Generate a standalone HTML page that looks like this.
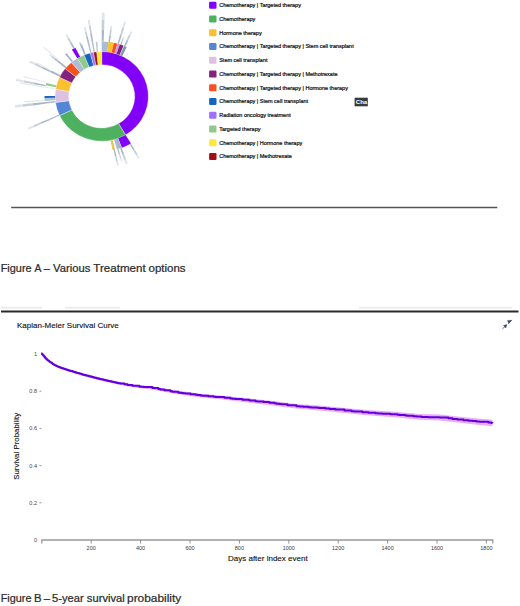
<!DOCTYPE html>
<html><head><meta charset="utf-8"><style>
html,body{margin:0;padding:0;background:#fff;}
svg{display:block;font-family:"Liberation Sans",sans-serif;}
</style></head><body>
<svg width="520" height="606" viewBox="0 0 520 606">
<rect width="520" height="606" fill="#fff"/>
<g transform="translate(101.7,96.4) scale(1,0.96)">
<g stroke="#fff" stroke-width="0.35">
<path d="M0.00,-46.67A46.67,46.67 0 0 1 23.90,40.09L16.90,28.35A33.00,33.00 0 0 0 0.00,-33.00Z" fill="#8200f7"/>
<path d="M23.90,40.09A46.67,46.67 0 0 1 -42.16,20.02L-29.81,14.15A33.00,33.00 0 0 0 16.90,28.35Z" fill="#4eb160"/>
<path d="M-42.16,20.02A46.67,46.67 0 0 1 -46.24,6.33L-32.69,4.48A33.00,33.00 0 0 0 -29.81,14.15Z" fill="#5387d6"/>
<path d="M-46.24,6.33A46.67,46.67 0 0 1 -46.08,-7.38L-32.58,-5.22A33.00,33.00 0 0 0 -32.69,4.48Z" fill="#dcc1e3"/>
<path d="M-46.08,-7.38A46.67,46.67 0 0 1 -42.23,-19.87L-29.86,-14.05A33.00,33.00 0 0 0 -32.58,-5.22Z" fill="#fbc02d"/>
<path d="M-42.23,-19.87A46.67,46.67 0 0 1 -36.57,-28.99L-25.86,-20.50A33.00,33.00 0 0 0 -29.86,-14.05Z" fill="#83237e"/>
<path d="M-36.57,-28.99A46.67,46.67 0 0 1 -30.37,-35.43L-21.48,-25.06A33.00,33.00 0 0 0 -25.86,-20.50Z" fill="#f4511e"/>
<path d="M-30.37,-35.43A46.67,46.67 0 0 1 -24.38,-39.79L-17.24,-28.14A33.00,33.00 0 0 0 -21.48,-25.06Z" fill="#aebdd3"/>
<path d="M-24.38,-39.79A46.67,46.67 0 0 1 -17.63,-43.21L-12.47,-30.55A33.00,33.00 0 0 0 -17.24,-28.14Z" fill="#8fca8a"/>
<path d="M-17.63,-43.21A46.67,46.67 0 0 1 -11.37,-45.26L-8.04,-32.01A33.00,33.00 0 0 0 -12.47,-30.55Z" fill="#1565c0"/>
<path d="M-11.37,-45.26A46.67,46.67 0 0 1 -8.18,-45.95L-5.79,-32.49A33.00,33.00 0 0 0 -8.04,-32.01Z" fill="#a070ff"/>
<path d="M-8.18,-45.95A46.67,46.67 0 0 1 -4.96,-46.40L-3.51,-32.81A33.00,33.00 0 0 0 -5.79,-32.49Z" fill="#a50e0e"/>
<path d="M-4.96,-46.40A46.67,46.67 0 0 1 -0.00,-46.67L-0.00,-33.00A33.00,33.00 0 0 0 -3.51,-32.81Z" fill="#ffe83a"/>
</g>
<path d="M0.00,-57.16A57.16,57.16 0 0 1 6.77,-56.76L5.53,-46.34A46.67,46.67 0 0 0 0.00,-46.67Z" fill="#a9bcd6"/>
<path d="M6.77,-56.76A57.16,57.16 0 0 1 12.18,-55.85L9.94,-45.60A46.67,46.67 0 0 0 5.53,-46.34Z" fill="#fbc02d"/>
<path d="M12.18,-55.85A57.16,57.16 0 0 1 15.75,-54.94L12.86,-44.86A46.67,46.67 0 0 0 9.94,-45.60Z" fill="#f4511e"/>
<path d="M15.75,-54.94A57.16,57.16 0 0 1 18.14,-54.20L14.81,-44.26A46.67,46.67 0 0 0 12.86,-44.86Z" fill="#cf9de6"/>
<path d="M18.14,-54.20A57.16,57.16 0 0 1 21.87,-52.81L17.86,-43.12A46.67,46.67 0 0 0 14.81,-44.26Z" fill="#83237e"/>
<path d="M22.33,-52.61A57.16,57.16 0 0 1 25.06,-51.37L20.46,-41.95A46.67,46.67 0 0 0 18.24,-42.96Z" fill="#7f9bb0"/>
<path d="M29.27,49.10A57.16,57.16 0 0 1 20.20,53.47L16.50,43.66A46.67,46.67 0 0 0 23.90,40.09Z" fill="#8200f7"/>
<path d="M20.02,53.54A57.16,57.16 0 0 1 15.27,55.08L12.47,44.97A46.67,46.67 0 0 0 16.34,43.71Z" fill="#a9b8cc"/>
<path d="M13.34,55.58A57.16,57.16 0 0 1 10.91,56.11L8.90,45.81A46.67,46.67 0 0 0 10.89,45.38Z" fill="#e3c64a"/>
<path d="M-29.86,-48.73A57.16,57.16 0 0 1 -26.39,-50.70L-21.55,-41.40A46.67,46.67 0 0 0 -24.38,-39.79Z" fill="#8200f7"/>
<path d="M-56.95,4.88A57.16,57.16 0 0 1 -57.14,1.60L-46.65,1.30A46.67,46.67 0 0 0 -46.50,3.99Z" fill="#b3c2d4"/>
<path d="M-57.14,1.60A57.16,57.16 0 0 1 -57.16,-0.40L-46.67,-0.33A46.67,46.67 0 0 0 -46.65,1.30Z" fill="#1565c0"/>
<path d="M-55.95,-11.69A57.16,57.16 0 0 1 -55.41,-14.02L-45.24,-11.45A46.67,46.67 0 0 0 -45.68,-9.54Z" fill="#8fca8a"/>
<path d="M-5.97,-56.84A57.16,57.16 0 0 1 -4.48,-56.98L-3.66,-46.53A46.67,46.67 0 0 0 -4.88,-46.41Z" fill="#b9c4d0"/>
<path d="M-21.41,-53.00A57.16,57.16 0 0 1 -19.55,-53.71L-15.96,-43.85A46.67,46.67 0 0 0 -17.48,-43.27Z" fill="#9fb2c8"/>
<path d="M-36.74,-43.79A57.16,57.16 0 0 1 -35.19,-45.04L-28.73,-36.78A46.67,46.67 0 0 0 -30.00,-35.75Z" fill="#9fb2c8"/>
<path d="M-44.42,-35.97A57.16,57.16 0 0 1 -43.14,-37.50L-35.22,-30.62A46.67,46.67 0 0 0 -36.27,-29.37Z" fill="#a4b4c8"/>
<path d="M-51.37,-25.06A57.16,57.16 0 0 1 -50.37,-27.01L-41.13,-22.05A46.67,46.67 0 0 0 -41.95,-20.46Z" fill="#a4b4c8"/>
<path d="M-51.63,24.52A57.16,57.16 0 0 1 -52.26,23.16L-42.67,18.91A46.67,46.67 0 0 0 -42.16,20.02Z" fill="#b0bccb"/>
<path d="M-56.63,7.76A57.16,57.16 0 0 1 -56.87,5.78L-46.43,4.72A46.67,46.67 0 0 0 -46.24,6.33Z" fill="#b0bccb"/>
<path d="M-9.93,-56.29A57.16,57.16 0 0 1 -8.45,-56.53L-6.90,-46.16A46.67,46.67 0 0 0 -8.10,-45.96Z" fill="#b0bccb"/>
<path d="M-13.92,-55.44A57.16,57.16 0 0 1 -12.47,-55.78L-10.18,-45.55A46.67,46.67 0 0 0 -11.37,-45.26Z" fill="#b0bccb"/>
<path d="M0.00,-69.22A69.22,69.22 0 0 1 2.42,-69.18L1.99,-57.12A57.16,57.16 0 0 0 0.00,-57.16Z" fill="#a9b8c9"/>
<path d="M0.00,-79.77A79.77,79.77 0 0 1 2.78,-79.72L2.42,-69.18A69.22,69.22 0 0 0 0.00,-69.22Z" fill="#c5cfda"/>
<path d="M0.00,-87.31A87.31,87.31 0 0 1 3.05,-87.26L2.78,-79.72A79.77,79.77 0 0 0 0.00,-79.77Z" fill="#e0e5ea"/>
<path d="M7.56,-63.36A63.81,63.81 0 0 1 9.21,-63.14L8.25,-56.56A57.16,57.16 0 0 0 6.77,-56.76Z" fill="#a9b8c9"/>
<path d="M8.24,-69.14A69.63,69.63 0 0 1 10.05,-68.90L9.21,-63.14A63.81,63.81 0 0 0 7.56,-63.36Z" fill="#c5cfda"/>
<path d="M8.74,-73.27A73.79,73.79 0 0 1 10.65,-73.02L10.05,-68.90A69.63,69.63 0 0 0 8.24,-69.14Z" fill="#e0e5ea"/>
<path d="M18.37,-64.05A66.63,66.63 0 0 1 20.04,-63.54L17.19,-54.51A57.16,57.16 0 0 0 15.75,-54.94Z" fill="#a9b8c9"/>
<path d="M20.65,-72.01A74.91,74.91 0 0 1 22.53,-71.45L20.04,-63.54A66.63,66.63 0 0 0 18.37,-64.05Z" fill="#c5cfda"/>
<path d="M22.28,-77.70A80.83,80.83 0 0 1 24.31,-77.09L22.53,-71.45A74.91,74.91 0 0 0 20.65,-72.01Z" fill="#e0e5ea"/>
<path d="M24.93,-58.74A63.81,63.81 0 0 1 26.46,-58.07L23.70,-52.01A57.16,57.16 0 0 0 22.33,-52.61Z" fill="#a9b8c9"/>
<path d="M27.21,-64.10A69.63,69.63 0 0 1 28.88,-63.36L26.46,-58.07A63.81,63.81 0 0 0 24.93,-58.74Z" fill="#c5cfda"/>
<path d="M28.83,-67.92A73.79,73.79 0 0 1 30.60,-67.15L28.88,-63.36A69.63,69.63 0 0 0 27.21,-64.10Z" fill="#e0e5ea"/>
<path d="M19.76,-57.39A60.69,60.69 0 0 1 20.86,-57.00L19.64,-53.68A57.16,57.16 0 0 0 18.61,-54.04Z" fill="#a9b8c9"/>
<path d="M20.77,-60.31A63.79,63.79 0 0 1 21.92,-59.90L20.86,-57.00A60.69,60.69 0 0 0 19.76,-57.39Z" fill="#c5cfda"/>
<path d="M21.49,-62.40A66.00,66.00 0 0 1 22.68,-61.98L21.92,-59.90A63.79,63.79 0 0 0 20.77,-60.31Z" fill="#e0e5ea"/>
<path d="M-11.57,-65.62A66.63,66.63 0 0 1 -9.85,-65.90L-8.45,-56.53A57.16,57.16 0 0 0 -9.93,-56.29Z" fill="#a9b8c9"/>
<path d="M-13.01,-73.78A74.91,74.91 0 0 1 -11.07,-74.09L-9.85,-65.90A66.63,66.63 0 0 0 -11.57,-65.62Z" fill="#c5cfda"/>
<path d="M-14.04,-79.61A80.83,80.83 0 0 1 -11.95,-79.95L-11.07,-74.09A74.91,74.91 0 0 0 -13.01,-73.78Z" fill="#e0e5ea"/>
<path d="M-15.55,-61.89A63.81,63.81 0 0 1 -13.92,-62.27L-12.47,-55.78A57.16,57.16 0 0 0 -13.92,-55.44Z" fill="#a9b8c9"/>
<path d="M-16.96,-67.53A69.63,69.63 0 0 1 -15.19,-67.96L-13.92,-62.27A63.81,63.81 0 0 0 -15.55,-61.89Z" fill="#c5cfda"/>
<path d="M-17.98,-71.57A73.79,73.79 0 0 1 -16.10,-72.01L-15.19,-67.96A69.63,69.63 0 0 0 -16.96,-67.53Z" fill="#e0e5ea"/>
<path d="M-21.96,-54.36A58.63,58.63 0 0 1 -20.44,-54.96L-19.92,-53.57A57.16,57.16 0 0 0 -21.41,-53.00Z" fill="#a9b8c9"/>
<path d="M-22.45,-55.56A59.93,59.93 0 0 1 -20.89,-56.17L-20.44,-54.96A58.63,58.63 0 0 0 -21.96,-54.36Z" fill="#c5cfda"/>
<path d="M-22.79,-56.42A60.85,60.85 0 0 1 -21.21,-57.03L-20.89,-56.17A59.93,59.93 0 0 0 -22.45,-55.56Z" fill="#e0e5ea"/>
<path d="M-31.62,-55.43A63.81,63.81 0 0 1 -30.06,-56.29L-26.92,-50.42A57.16,57.16 0 0 0 -28.32,-49.65Z" fill="#a9b8c9"/>
<path d="M-34.50,-60.48A69.63,69.63 0 0 1 -32.80,-61.42L-30.06,-56.29A63.81,63.81 0 0 0 -31.62,-55.43Z" fill="#c5cfda"/>
<path d="M-36.56,-64.10A73.79,73.79 0 0 1 -34.76,-65.09L-32.80,-61.42A69.63,69.63 0 0 0 -34.50,-60.48Z" fill="#e0e5ea"/>
<path d="M-47.68,-38.61A61.35,61.35 0 0 1 -46.58,-39.92L-43.40,-37.20A57.16,57.16 0 0 0 -44.42,-35.97Z" fill="#a9b8c9"/>
<path d="M-50.52,-40.91A65.01,65.01 0 0 1 -49.36,-42.31L-46.58,-39.92A61.35,61.35 0 0 0 -47.68,-38.61Z" fill="#c5cfda"/>
<path d="M-52.56,-42.56A67.63,67.63 0 0 1 -51.35,-44.01L-49.36,-42.31A65.01,65.01 0 0 0 -50.52,-40.91Z" fill="#e0e5ea"/>
<path d="M-59.88,-29.21A66.63,66.63 0 0 1 -59.05,-30.87L-50.65,-26.48A57.16,57.16 0 0 0 -51.37,-25.06Z" fill="#a9b8c9"/>
<path d="M-67.33,-32.84A74.91,74.91 0 0 1 -66.39,-34.71L-59.05,-30.87A66.63,66.63 0 0 0 -59.88,-29.21Z" fill="#c5cfda"/>
<path d="M-72.65,-35.43A80.83,80.83 0 0 1 -71.63,-37.45L-66.39,-34.71A74.91,74.91 0 0 0 -67.33,-32.84Z" fill="#e0e5ea"/>
<path d="M-68.04,-12.73A69.22,69.22 0 0 1 -67.68,-14.51L-55.89,-11.98A57.16,57.16 0 0 0 -56.18,-10.51Z" fill="#a9b8c9"/>
<path d="M-78.41,-14.67A79.77,79.77 0 0 1 -78.00,-16.72L-67.68,-14.51A69.22,69.22 0 0 0 -68.04,-12.73Z" fill="#c5cfda"/>
<path d="M-85.82,-16.06A87.31,87.31 0 0 1 -85.37,-18.30L-78.00,-16.72A79.77,79.77 0 0 0 -78.41,-14.67Z" fill="#e0e5ea"/>
<path d="M-68.58,9.39A69.22,69.22 0 0 1 -68.85,7.12L-56.85,5.88A57.16,57.16 0 0 0 -56.63,7.76Z" fill="#a9b8c9"/>
<path d="M-79.03,10.83A79.77,79.77 0 0 1 -79.35,8.20L-68.85,7.12A69.22,69.22 0 0 0 -68.58,9.39Z" fill="#c5cfda"/>
<path d="M-86.50,11.85A87.31,87.31 0 0 1 -86.85,8.97L-79.35,8.20A79.77,79.77 0 0 0 -79.03,10.83Z" fill="#e0e5ea"/>
<path d="M-60.19,28.58A66.63,66.63 0 0 1 -60.91,26.99L-52.26,23.16A57.16,57.16 0 0 0 -51.63,24.52Z" fill="#a9b8c9"/>
<path d="M-67.67,32.13A74.91,74.91 0 0 1 -68.49,30.35L-60.91,26.99A66.63,66.63 0 0 0 -60.19,28.58Z" fill="#c5cfda"/>
<path d="M-73.02,34.67A80.83,80.83 0 0 1 -73.90,32.75L-68.49,30.35A74.91,74.91 0 0 0 -67.67,32.13Z" fill="#e0e5ea"/>
<path d="M32.82,55.06A64.10,64.10 0 0 1 31.37,55.90L27.97,49.85A57.16,57.16 0 0 0 29.27,49.10Z" fill="#a9b8c9"/>
<path d="M35.94,60.28A70.18,70.18 0 0 1 34.35,61.20L31.37,55.90A64.10,64.10 0 0 0 32.82,55.06Z" fill="#c5cfda"/>
<path d="M38.16,64.01A74.52,74.52 0 0 1 36.47,64.99L34.35,61.20A70.18,70.18 0 0 0 35.94,60.28Z" fill="#e0e5ea"/>
<path d="M22.35,60.08A64.10,64.10 0 0 1 20.66,60.68L18.42,54.11A57.16,57.16 0 0 0 19.92,53.57Z" fill="#a9b8c9"/>
<path d="M24.46,65.78A70.18,70.18 0 0 1 22.62,66.44L20.66,60.68A64.10,64.10 0 0 0 22.35,60.08Z" fill="#c5cfda"/>
<path d="M25.98,69.85A74.52,74.52 0 0 1 24.02,70.55L22.62,66.44A70.18,70.18 0 0 0 24.46,65.78Z" fill="#e0e5ea"/>
<path d="M14.79,62.07A63.81,63.81 0 0 1 13.27,62.42L11.88,55.91A57.16,57.16 0 0 0 13.25,55.60Z" fill="#a9b8c9"/>
<path d="M16.14,67.74A69.63,69.63 0 0 1 14.48,68.11L13.27,62.42A63.81,63.81 0 0 0 14.79,62.07Z" fill="#c5cfda"/>
<path d="M17.10,71.78A73.79,73.79 0 0 1 15.34,72.18L14.48,68.11A69.63,69.63 0 0 0 16.14,67.74Z" fill="#e0e5ea"/>
<path d="M18.30,59.87A62.61,62.61 0 0 1 17.15,60.21L15.66,54.97A57.16,57.16 0 0 0 16.71,54.66Z" fill="#a9b8c9"/>
<path d="M19.70,64.43A67.37,67.37 0 0 1 18.46,64.79L17.15,60.21A62.61,62.61 0 0 0 18.30,59.87Z" fill="#c5cfda"/>
<path d="M20.69,67.68A70.78,70.78 0 0 1 19.39,68.07L18.46,64.79A67.37,67.37 0 0 0 19.70,64.43Z" fill="#e0e5ea"/>
<path d="M-81.76,-13.24A82.83,82.83 0 0 1 -81.52,-14.67L-45.93,-8.26A46.67,46.67 0 0 0 -46.07,-7.46Z" fill="#e6eaee"/>
<path d="M-78.33,-19.97A80.83,80.83 0 0 1 -77.97,-21.33L-55.13,-15.08A57.16,57.16 0 0 0 -55.39,-14.12Z" fill="#e6eaee"/>
<path d="M-77.13,6.34A77.39,77.39 0 0 1 -77.25,4.72L-57.05,3.49A57.16,57.16 0 0 0 -56.97,4.68Z" fill="#e6eaee"/>
<path d="M-65.27,-34.41A73.79,73.79 0 0 1 -64.66,-35.55L-50.09,-27.54A57.16,57.16 0 0 0 -50.56,-26.66Z" fill="#e6eaee"/>
<path d="M-58.41,-50.77A77.39,77.39 0 0 1 -57.51,-51.79L-42.48,-38.25A57.16,57.16 0 0 0 -43.14,-37.50Z" fill="#e6eaee"/>
</g>
<rect x="209.1" y="1.80" width="7.4" height="7.0" rx="1.2" fill="#8200f7"/>
<text x="219.2" y="7.10" font-size="5.5" fill="#111" stroke="#111" stroke-width="0.22">Chemotherapy | Targeted therapy</text>
<rect x="209.1" y="15.55" width="7.4" height="7.0" rx="1.2" fill="#4eb160"/>
<text x="219.2" y="20.85" font-size="5.5" fill="#111" stroke="#111" stroke-width="0.22">Chemotherapy</text>
<rect x="209.1" y="29.30" width="7.4" height="7.0" rx="1.2" fill="#fbc02d"/>
<text x="219.2" y="34.60" font-size="5.5" fill="#111" stroke="#111" stroke-width="0.22">Hormone therapy</text>
<rect x="209.1" y="43.05" width="7.4" height="7.0" rx="1.2" fill="#5387d6"/>
<text x="219.2" y="48.35" font-size="5.5" fill="#111" stroke="#111" stroke-width="0.22">Chemotherapy | Targeted therapy | Stem cell transplant</text>
<rect x="209.1" y="56.80" width="7.4" height="7.0" rx="1.2" fill="#dcc1e3"/>
<text x="219.2" y="62.10" font-size="5.5" fill="#111" stroke="#111" stroke-width="0.22">Stem cell transplant</text>
<rect x="209.1" y="70.55" width="7.4" height="7.0" rx="1.2" fill="#83237e"/>
<text x="219.2" y="75.85" font-size="5.5" fill="#111" stroke="#111" stroke-width="0.22">Chemotherapy | Targeted therapy | Methotrexate</text>
<rect x="209.1" y="84.30" width="7.4" height="7.0" rx="1.2" fill="#f4511e"/>
<text x="219.2" y="89.60" font-size="5.5" fill="#111" stroke="#111" stroke-width="0.22">Chemotherapy | Targeted therapy | Hormone therapy</text>
<rect x="209.1" y="98.05" width="7.4" height="7.0" rx="1.2" fill="#1565c0"/>
<text x="219.2" y="103.35" font-size="5.5" fill="#111" stroke="#111" stroke-width="0.22">Chemotherapy | Stem cell transplant</text>
<rect x="209.1" y="111.80" width="7.4" height="7.0" rx="1.2" fill="#a070ff"/>
<text x="219.2" y="117.10" font-size="5.5" fill="#111" stroke="#111" stroke-width="0.22">Radiation oncology treatment</text>
<rect x="209.1" y="125.55" width="7.4" height="7.0" rx="1.2" fill="#8fca8a"/>
<text x="219.2" y="130.85" font-size="5.5" fill="#111" stroke="#111" stroke-width="0.22">Targeted therapy</text>
<rect x="209.1" y="139.30" width="7.4" height="7.0" rx="1.2" fill="#ffe83a"/>
<text x="219.2" y="144.60" font-size="5.5" fill="#111" stroke="#111" stroke-width="0.22">Chemotherapy | Hormone therapy</text>
<rect x="209.1" y="153.05" width="7.4" height="7.0" rx="1.2" fill="#a50e0e"/>
<text x="219.2" y="158.35" font-size="5.5" fill="#111" stroke="#111" stroke-width="0.22">Chemotherapy | Methotrexate</text>
<rect x="354.6" y="97.7" width="13.2" height="8.6" fill="#3a3a3a"/>
<text x="355.8" y="104.3" font-size="6" font-weight="bold" fill="#fff">Cha</text>
<line x1="11.2" x2="497.3" y1="207.45" y2="207.45" stroke="#555" stroke-width="1.6"/>
<g font-size="10.6" fill="#2a2a2a" stroke="#2a2a2a" stroke-width="0.22">
<text x="0.73" y="272.3" textLength="30.86" lengthAdjust="spacingAndGlyphs">Figure</text>
<text x="34.40" y="272.3" textLength="6.87" lengthAdjust="spacingAndGlyphs">A</text>
<text x="43.80" y="272.3" textLength="6.16" lengthAdjust="spacingAndGlyphs">–</text>
<text x="52.99" y="272.3" textLength="37.32" lengthAdjust="spacingAndGlyphs">Various</text>
<text x="93.27" y="272.3" textLength="52.45" lengthAdjust="spacingAndGlyphs">Treatment</text>
<text x="148.54" y="272.3" textLength="37.06" lengthAdjust="spacingAndGlyphs">options</text>
</g>
<path d="M1,307.6H42M65,307.6H120M359,307.6H512" stroke="#e9e9e9" stroke-width="1.6"/>
<line x1="1" x2="518.5" y1="311.5" y2="311.5" stroke="#2a2a2a" stroke-width="1.8"/>
<path d="M41.20,352.58 L43.00,354.46 L44.80,356.64 L46.50,358.32 L48.50,360.00 L51.00,361.78 L54.20,363.85 L58.00,365.72 L63.80,367.77 L73.50,370.80 L85.00,374.02 L102.30,378.31 L117.70,381.61 L134.00,384.52 L153.00,386.61 L176.20,390.58 L199.30,393.46 L222.40,395.64 L250.00,398.50 L273.00,400.99 L296.20,403.88 L319.30,405.57 L342.40,407.76 L370.00,410.13 L395.00,411.72 L420.00,413.91 L440.00,414.52 L457.50,416.45 L475.00,418.17 L492.50,419.80 L492.50,426.20 L475.00,424.43 L457.50,422.55 L440.00,420.48 L420.00,419.69 L395.00,417.28 L370.00,415.47 L342.40,412.84 L319.30,410.43 L296.20,408.52 L273.00,405.41 L250.00,402.70 L222.40,399.56 L199.30,397.14 L176.20,394.02 L153.00,389.79 L134.00,387.48 L117.70,384.39 L102.30,380.89 L85.00,376.38 L73.50,373.00 L63.80,369.83 L58.00,367.68 L54.20,365.75 L51.00,363.62 L48.50,361.80 L46.50,360.08 L44.80,358.36 L43.00,356.14 L41.20,354.22Z" fill="#e8aef6"/>
<path d="M41.20,353.40 H42.00 V354.23 H42.80 V355.08 H43.60 V356.03 H44.40 V357.03 H45.20 V357.93 H46.00 V358.73 H46.80 V359.47 H47.60 V360.17 H48.40 V360.82 H49.20 V361.43 H50.00 V362.01 H50.80 V362.56 H51.60 V363.11 H52.40 V363.66 H53.20 V364.19 H54.00 V364.68 H54.80 V365.14 H55.60 V365.57 H56.40 V365.98 H57.20 V366.35 H58.00 V366.70 H58.80 V367.02 H59.60 V367.33 H60.40 V367.63 H61.90 V368.16 H63.40 V368.67 H64.90 V369.17 H66.40 V369.66 H67.90 V370.15 H69.40 V370.63 H70.90 V371.10 H72.40 V371.57 H73.90 V372.02 H75.40 V372.47 H76.90 V372.92 H78.40 V373.36 H79.90 V373.79 H81.40 V374.22 H82.90 V374.63 H84.40 V375.04 H85.90 V375.44 H87.40 V375.84 H88.90 V376.23 H90.40 V376.62 H91.90 V377.01 H93.40 V377.39 H94.90 V377.77 H96.40 V378.15 H97.90 V378.53 H99.40 V378.90 H100.90 V379.26 H102.40 V379.62 H103.90 V379.98 H105.40 V380.33 H106.90 V380.68 H108.40 V381.02 H109.90 V381.35 H111.40 V381.68 H112.90 V382.00 H114.40 V382.32 H115.90 V382.63 H117.40 V382.94 H118.90 V383.24 H120.40 V383.55 H124.40 V384.34 H127.40 V384.91 H132.40 V385.76 H139.40 V386.66 H141.40 V386.87 H143.40 V387.06 H152.40 V388.11 H158.40 V389.10 H160.40 V389.46 H164.40 V390.21 H170.40 V391.32 H172.40 V391.68 H178.40 V392.63 H181.40 V393.06 H183.40 V393.34 H185.40 V393.61 H190.40 V394.24 H195.40 V394.85 H197.40 V395.08 H200.40 V395.42 H202.40 V395.64 H208.40 V396.24 H213.40 V396.72 H215.40 V396.91 H224.40 V397.81 H230.40 V398.45 H232.40 V398.67 H235.40 V398.99 H242.40 V399.76 H249.40 V400.53 H255.40 V401.20 H257.40 V401.42 H263.40 V402.08 H269.40 V402.77 H274.40 V403.37 H276.40 V403.63 H279.40 V404.03 H281.40 V404.31 H287.40 V405.13 H296.40 V406.22 H299.40 V406.51 H303.40 V406.83 H308.40 V407.19 H311.40 V407.39 H317.40 V407.84 H319.40 V408.01 H325.40 V408.58 H329.40 V408.99 H335.40 V409.61 H344.40 V410.49 H351.40 V411.15 H354.40 V411.43 H356.40 V411.62 H362.40 V412.16 H368.40 V412.67 H375.40 V413.20 H378.40 V413.40 H382.40 V413.65 H384.40 V413.77 H390.40 V414.16 H397.40 V414.70 H399.40 V414.88 H405.40 V415.47 H407.40 V415.67 H413.40 V416.26 H416.40 V416.53 H421.40 V416.88 H428.40 V417.13 H434.40 V417.25 H439.40 V417.46 H448.40 V418.37 H452.40 V418.88 H457.40 V419.49 H463.40 V420.13 H468.40 V420.64 H472.40 V421.04 H476.40 V421.44 H479.40 V421.73 H488.40 V422.60 H491.40 V422.89 H492.50 V423.00" fill="none" stroke="#6200dc" stroke-width="2.0" stroke-linejoin="round"/>
<text x="37" y="542.00" font-size="5.5" text-anchor="end" fill="#444">0</text>
<text x="37" y="504.80" font-size="5.5" text-anchor="end" fill="#444">0.2</text>
<line x1="39.5" x2="41.5" y1="502.80" y2="502.80" stroke="#555" stroke-width="0.6"/>
<text x="37" y="467.60" font-size="5.5" text-anchor="end" fill="#444">0.4</text>
<line x1="39.5" x2="41.5" y1="465.60" y2="465.60" stroke="#555" stroke-width="0.6"/>
<text x="37" y="430.40" font-size="5.5" text-anchor="end" fill="#444">0.6</text>
<line x1="39.5" x2="41.5" y1="428.40" y2="428.40" stroke="#555" stroke-width="0.6"/>
<text x="37" y="393.20" font-size="5.5" text-anchor="end" fill="#444">0.8</text>
<line x1="39.5" x2="41.5" y1="391.20" y2="391.20" stroke="#555" stroke-width="0.6"/>
<text x="37" y="356.00" font-size="5.5" text-anchor="end" fill="#444">1</text>
<path d="M41.80,543.5V540H492.82V543.5" fill="none" stroke="#999" stroke-width="1.3"/>
<line x1="91.20" x2="91.20" y1="540" y2="543.6" stroke="#888" stroke-width="0.9"/>
<text x="91.20" y="550" font-size="5.5" text-anchor="middle" fill="#3a3a3a">200</text>
<line x1="140.60" x2="140.60" y1="540" y2="543.6" stroke="#888" stroke-width="0.9"/>
<text x="140.60" y="550" font-size="5.5" text-anchor="middle" fill="#3a3a3a">400</text>
<line x1="190.00" x2="190.00" y1="540" y2="543.6" stroke="#888" stroke-width="0.9"/>
<text x="190.00" y="550" font-size="5.5" text-anchor="middle" fill="#3a3a3a">600</text>
<line x1="239.40" x2="239.40" y1="540" y2="543.6" stroke="#888" stroke-width="0.9"/>
<text x="239.40" y="550" font-size="5.5" text-anchor="middle" fill="#3a3a3a">800</text>
<line x1="288.80" x2="288.80" y1="540" y2="543.6" stroke="#888" stroke-width="0.9"/>
<text x="288.80" y="550" font-size="5.5" text-anchor="middle" fill="#3a3a3a">1000</text>
<line x1="338.20" x2="338.20" y1="540" y2="543.6" stroke="#888" stroke-width="0.9"/>
<text x="338.20" y="550" font-size="5.5" text-anchor="middle" fill="#3a3a3a">1200</text>
<line x1="387.60" x2="387.60" y1="540" y2="543.6" stroke="#888" stroke-width="0.9"/>
<text x="387.60" y="550" font-size="5.5" text-anchor="middle" fill="#3a3a3a">1400</text>
<line x1="437.00" x2="437.00" y1="540" y2="543.6" stroke="#888" stroke-width="0.9"/>
<text x="437.00" y="550" font-size="5.5" text-anchor="middle" fill="#3a3a3a">1600</text>
<line x1="486.40" x2="486.40" y1="540" y2="543.6" stroke="#888" stroke-width="0.9"/>
<text x="486.40" y="550" font-size="5.5" text-anchor="middle" fill="#3a3a3a">1800</text>
<g fill="#111" stroke="#111" stroke-width="0.12">
<text x="228" y="560.5" font-size="8">Days after index event</text>
<text transform="translate(19,446.3) rotate(-90)" font-size="8" text-anchor="middle" textLength="67" lengthAdjust="spacingAndGlyphs">Survival Probability</text>
<text x="17" y="327.7" font-size="8">Kaplan-Meier Survival Curve</text>
</g>
<g fill="#34495e" stroke="#34495e" stroke-width="0.5" stroke-linejoin="round">
<path d="M507.7,320.4 L511.5,320.4 L508.6,323.7Z"/>
<path d="M511.7,319.9 L509.2,322.6" fill="none" stroke-width="0.8"/>
<path d="M506.8,324.6 L503.6,325.6 L505.8,327.9Z"/>
<path d="M505,326.5 L502.5,328.8" fill="none" stroke-width="0.8"/>
</g>
<g font-size="10.6" fill="#2a2a2a" stroke="#2a2a2a" stroke-width="0.22">
<text x="0.73" y="602.3" textLength="30.75" lengthAdjust="spacingAndGlyphs">Figure</text>
<text x="34.09" y="602.3" textLength="7.55" lengthAdjust="spacingAndGlyphs">B</text>
<text x="43.75" y="602.3" textLength="6.21" lengthAdjust="spacingAndGlyphs">–</text>
<text x="52.05" y="602.3" textLength="31.61" lengthAdjust="spacingAndGlyphs">5-year</text>
<text x="86.86" y="602.3" textLength="37.92" lengthAdjust="spacingAndGlyphs">survival</text>
<text x="127.07" y="602.3" textLength="54.13" lengthAdjust="spacingAndGlyphs">probability</text>
</g>
</svg>
</body></html>
